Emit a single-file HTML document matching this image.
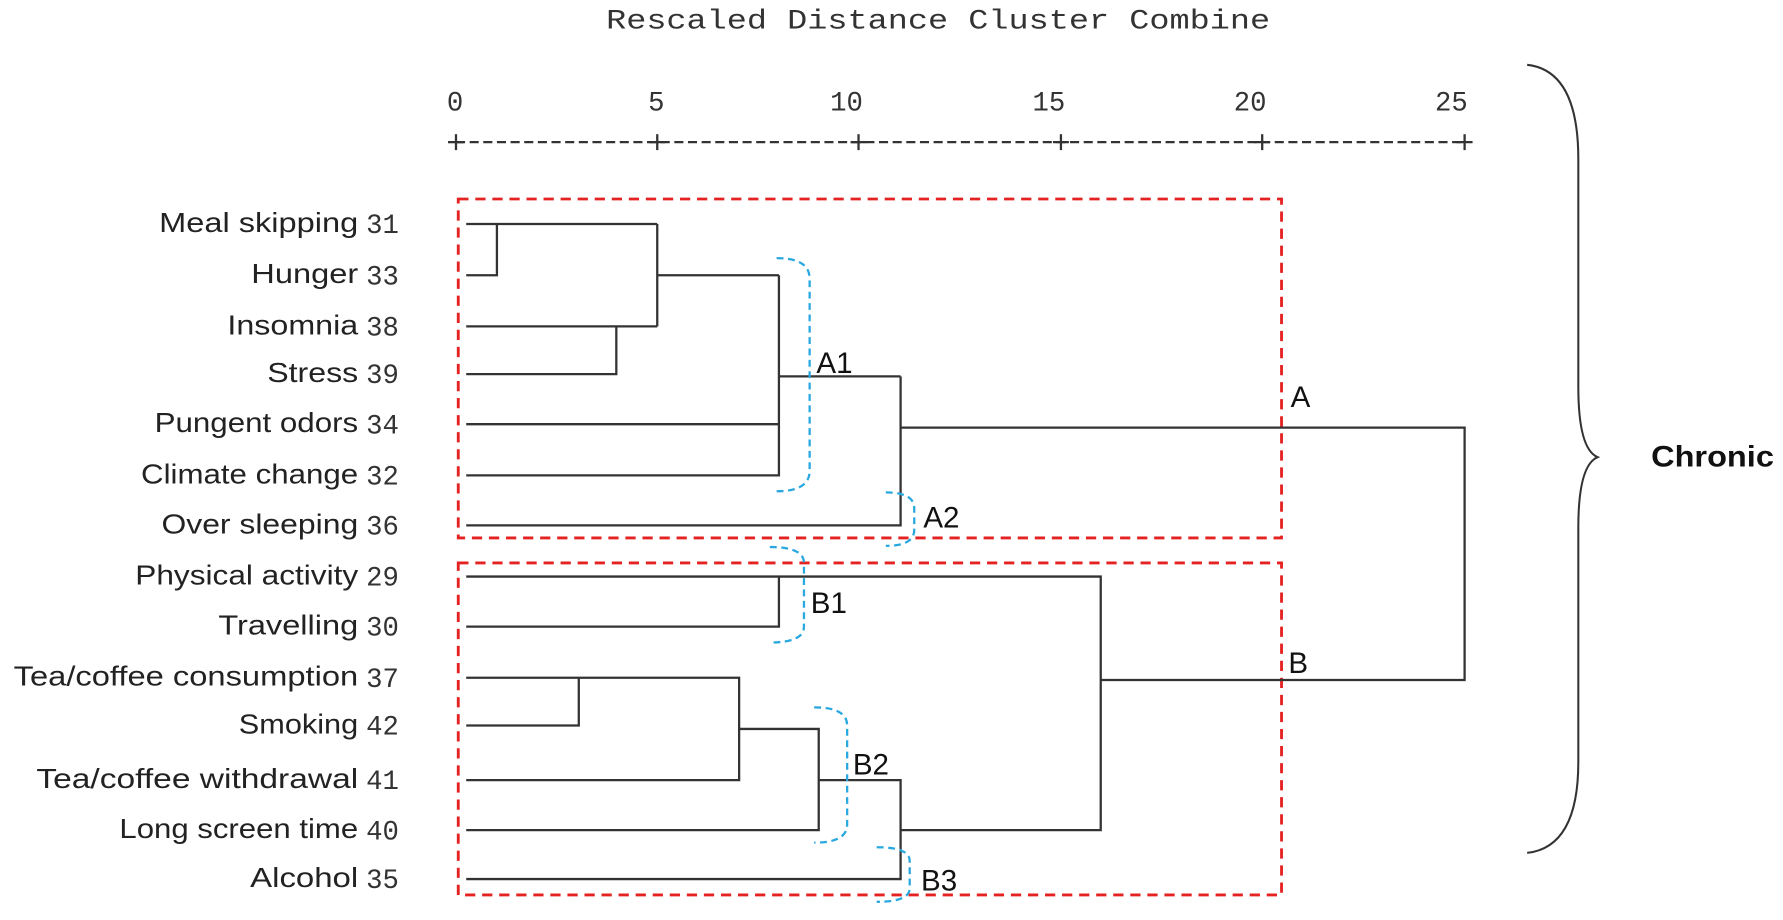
<!DOCTYPE html>
<html><head><meta charset="utf-8"><style>
html,body{margin:0;padding:0;background:#fff;width:1783px;height:920px;overflow:hidden}
svg{display:block}
.l{font-family:"Liberation Sans",sans-serif;font-size:24px;fill:#222}
.n{font-family:"Liberation Mono",monospace;font-size:24px;fill:#333}
.m{font-family:"Liberation Mono",monospace;font-size:24px;fill:#333}
.c{font-family:"Liberation Sans",sans-serif;font-size:26px;fill:#111}
</style></head><body>
<svg width="1783" height="920" viewBox="0 0 1568 809" preserveAspectRatio="none">
<text x="533" y="25" class="m" textLength="584" lengthAdjust="spacingAndGlyphs">Rescaled Distance Cluster Combine</text>
<g class="m">
<text x="393" y="97">0</text>
<text x="570" y="97">5</text>
<text x="730" y="97">10</text>
<text x="908" y="97">15</text>
<text x="1085" y="97">20</text>
<text x="1262" y="97">25</text>
</g>
<line x1="401" y1="125" x2="1288" y2="125" stroke="#333" stroke-width="2" stroke-dasharray="8,4"/>
<g stroke="#333" stroke-width="2">
<line x1="401" y1="118" x2="401" y2="132"/><line x1="578" y1="118" x2="578" y2="132"/><line x1="755" y1="118" x2="755" y2="132"/><line x1="933" y1="118" x2="933" y2="132"/><line x1="1110" y1="118" x2="1110" y2="132"/><line x1="1288" y1="118" x2="1288" y2="132"/>
<line x1="394" y1="125" x2="408" y2="125"/><line x1="571" y1="125" x2="585" y2="125"/><line x1="748" y1="125" x2="762" y2="125"/><line x1="926" y1="125" x2="940" y2="125"/><line x1="1103" y1="125" x2="1117" y2="125"/><line x1="1281" y1="125" x2="1295" y2="125"/>
</g>
<g>
<text x="140" y="204" class="l" textLength="175" lengthAdjust="spacingAndGlyphs">Meal skipping</text><text x="322" y="205" class="n">31</text>
<text x="221" y="249" class="l" textLength="94" lengthAdjust="spacingAndGlyphs">Hunger</text><text x="322" y="250" class="n">33</text>
<text x="200" y="294" class="l" textLength="115" lengthAdjust="spacingAndGlyphs">Insomnia</text><text x="322" y="295" class="n">38</text>
<text x="235" y="336" class="l" textLength="80" lengthAdjust="spacingAndGlyphs">Stress</text><text x="322" y="337" class="n">39</text>
<text x="136" y="380" class="l" textLength="179" lengthAdjust="spacingAndGlyphs">Pungent odors</text><text x="322" y="381" class="n">34</text>
<text x="124" y="425" class="l" textLength="191" lengthAdjust="spacingAndGlyphs">Climate change</text><text x="322" y="426" class="n">32</text>
<text x="142" y="469" class="l" textLength="173" lengthAdjust="spacingAndGlyphs">Over sleeping</text><text x="322" y="470" class="n">36</text>
<text x="119" y="514" class="l" textLength="196" lengthAdjust="spacingAndGlyphs">Physical activity</text><text x="322" y="515" class="n">29</text>
<text x="192" y="558" class="l" textLength="123" lengthAdjust="spacingAndGlyphs">Travelling</text><text x="322" y="559" class="n">30</text>
<text x="12" y="603" class="l" textLength="303" lengthAdjust="spacingAndGlyphs">Tea/coffee consumption</text><text x="322" y="604" class="n">37</text>
<text x="210" y="645" class="l" textLength="105" lengthAdjust="spacingAndGlyphs">Smoking</text><text x="322" y="646" class="n">42</text>
<text x="32" y="693" class="l" textLength="283" lengthAdjust="spacingAndGlyphs">Tea/coffee withdrawal</text><text x="322" y="694" class="n">41</text>
<text x="105" y="737" class="l" textLength="210" lengthAdjust="spacingAndGlyphs">Long screen time</text><text x="322" y="738" class="n">40</text>
<text x="220" y="780" class="l" textLength="95" lengthAdjust="spacingAndGlyphs">Alcohol</text><text x="322" y="781" class="n">35</text>
</g>
<g fill="none" stroke="#e52222" stroke-width="2.5" stroke-dasharray="9,6">
<rect x="403" y="175" width="724" height="298"/>
<rect x="403" y="495" width="724" height="292"/>
</g>
<g fill="none" stroke="#333" stroke-width="2">
<polyline points="410,197 578,197"/>
<polyline points="410,242 437,242 437,197"/>
<polyline points="410,287 578,287"/>
<polyline points="410,329 542,329 542,287"/>
<polyline points="578,197 578,287"/>
<polyline points="578,242 685,242"/>
<polyline points="410,373 685,373"/>
<polyline points="410,418 685,418 685,242"/>
<polyline points="685,331 792,331"/>
<polyline points="410,462 792,462 792,331"/>
<polyline points="792,376 1288,376 1288,598 968,598"/>
<polyline points="410,507 968,507 968,730 792,730"/>
<polyline points="410,551 685,551 685,507"/>
<polyline points="410,596 650,596 650,686 410,686"/>
<polyline points="410,638 509,638 509,596"/>
<polyline points="650,641 720,641 720,730 410,730"/>
<polyline points="720,686 792,686 792,773 410,773"/>
</g>
<g fill="none" stroke="#29a8e0" stroke-width="2" stroke-dasharray="6,4">
<path d="M683,227 Q712,227 712,245 L712,414 Q712,432 683,432"/>
<path d="M779,433 Q804,433 804,447 L804,466 Q804,480 779,480"/>
<path d="M677,481 Q707,481 707,495 L707,551 Q707,565 677,565"/>
<path d="M716,622 Q745,622 745,638 L745,725 Q745,741 716,741"/>
<path d="M771,745 Q800,745 800,757 L800,781 Q800,793 771,793"/>
</g>
<g class="c">
<text x="718" y="328">A1</text>
<text x="812" y="464">A2</text>
<text x="713" y="539">B1</text>
<text x="750" y="681">B2</text>
<text x="810" y="783">B3</text>
<text x="1135" y="358">A</text>
<text x="1133" y="592">B</text>
</g>
<path d="M1343,57 Q1388,62 1388,140 L1388,340 Q1388,395 1405,402 Q1388,409 1388,464 L1388,670 Q1388,745 1343,750" fill="none" stroke="#333" stroke-width="1.8"/>
<text x="1452" y="410" class="c" font-weight="bold" textLength="108" lengthAdjust="spacingAndGlyphs">Chronic</text>
</svg>
</body></html>
